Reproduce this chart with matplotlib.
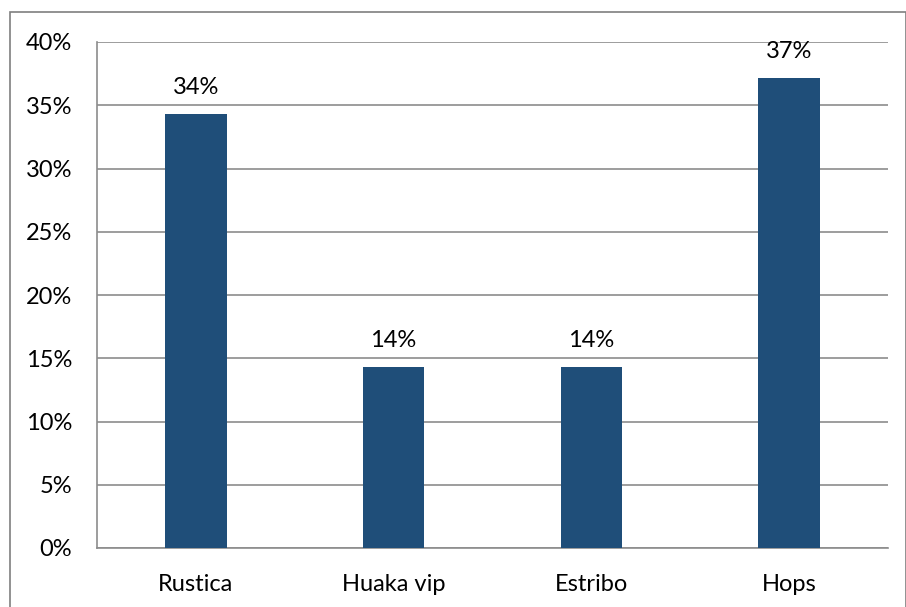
import matplotlib
matplotlib.use("Agg")
import matplotlib.pyplot as plt
from matplotlib.patches import Rectangle
from matplotlib.ticker import FuncFormatter

categories = ["Rustica", "Huaka vip", "Estribo", "Hops"]
values = [34.29, 14.29, 14.29, 37.14]
labels = ["34%", "14%", "14%", "37%"]
yticks = [0, 5, 10, 15, 20, 25, 30, 35, 40]

plt.rcParams['font.family'] = ['Lato', 'DejaVu Sans']

W, H = 906, 607
fig = plt.figure(figsize=(W/100, H/100), dpi=100)
ax = fig.add_axes([97/W, 1-548/H, (888-97)/W, (548-42)/H])

gray = '#8c8c8c'
x = range(len(categories))
bars = ax.bar(x, values, width=0.31, color='#1f4e79', zorder=3)
ax.set_xlim(-0.5, len(categories)-0.5)
ax.set_ylim(0, 40)
ax.set_yticks(yticks)
ax.yaxis.set_major_formatter(FuncFormatter(lambda v, p: f"{int(v)}%"))
ax.set_xticks(list(x))
ax.set_xticklabels(categories)
ax.grid(axis='y', color=gray, linewidth=1.2, zorder=0)
ax.tick_params(axis='both', length=0, labelsize=17, colors='black')
ax.tick_params(axis='y', pad=18)
ax.tick_params(axis='x', pad=19)
for s in ['top', 'right']:
    ax.spines[s].set_visible(False)
for s in ['left', 'bottom']:
    ax.spines[s].set_color(gray)
    ax.spines[s].set_linewidth(1.2)

for b, lab in zip(bars, labels):
    ax.annotate(lab, (b.get_x()+b.get_width()/2, b.get_height()),
                xytext=(0, 12), textcoords='offset points',
                ha='center', va='bottom', fontsize=17)

fig.patches.append(Rectangle((9.5/W, -0.1), (905.5-9.5)/W, 1.1-12/H,
                             transform=fig.transFigure, fill=False,
                             edgecolor='#7f7f7f', linewidth=1.2))
fig.savefig("out.png", dpi=100)
